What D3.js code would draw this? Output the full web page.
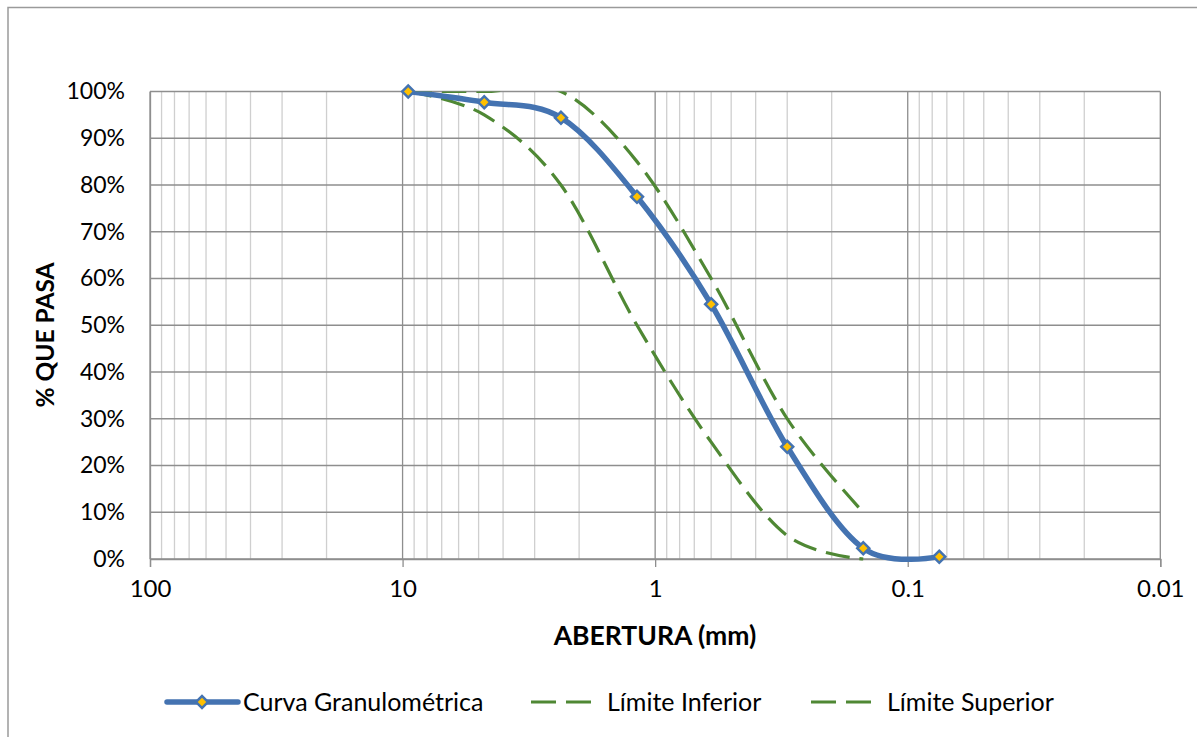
<!DOCTYPE html>
<html>
<head>
<meta charset="utf-8">
<script src="https://cdn.jsdelivr.net/npm/d3@7"></script>
<style>
  html, body { margin: 0; padding: 0; background: #fff; }
  svg { display: block; font-family: Lato, "Open Sans", sans-serif; }
</style>
</head>
<body>
<svg id="chart" width="1197" height="737"></svg>
<script>
// Sieve openings (mm)
const sieves = [9.5, 4.75, 2.36, 1.18, 0.6, 0.3, 0.15, 0.075];
// Percent passing, measured sample
const curvaGranulometrica = [100, 97.7, 94.4, 77.5, 54.5, 24.0, 2.3, 0.5];
// Specification band (fine aggregate)
const limiteSieves = [9.5, 4.75, 2.36, 1.18, 0.6, 0.3, 0.15];
const limiteInferior = [100, 95, 80, 50, 25, 5, 0];
const limiteSuperior = [100, 100, 100, 85, 60, 30, 10];
// Axis ticks
const xTicks = [100, 10, 1, 0.1, 0.01];
const xTickLabels = ["100", "10", "1", "0.1", "0.01"];
const yTicks = [0, 10, 20, 30, 40, 50, 60, 70, 80, 90, 100];
const seriesNames = ["Curva Granulométrica", "Límite Inferior", "Límite Superior"];

const svg = d3.select("#chart");
const plotLeft = 150, plotRight = 1160.3, plotTop = 91.5, plotBottom = 559;

const x = d3.scaleLog().domain([100, 0.01]).range([plotLeft, plotRight]);
const y = d3.scaleLinear().domain([0, 100]).range([plotBottom, plotTop]);

const blue = "#4473b1";
const green = "#4f8834";

// Series lines are clipped at the top of the plot area
svg.append("defs").append("clipPath").attr("id", "plot-clip")
  .append("rect")
  .attr("x", plotLeft - 10).attr("y", plotTop)
  .attr("width", plotRight - plotLeft + 20).attr("height", plotBottom - plotTop + 6);

// Outer frame
svg.append("path")
  .attr("d", "M8,740 L8,7.5 L1200,7.5")
  .attr("fill", "none").attr("stroke", "#9a9a9a").attr("stroke-width", 1.5);

// Minor vertical gridlines
const minor = [];
for (let e = -2; e < 2; e++) {
  for (let m = 2; m <= 9; m++) minor.push(m * Math.pow(10, e));
}
svg.append("g").selectAll("line").data(minor).join("line")
  .attr("x1", d => x(d)).attr("x2", d => x(d))
  .attr("y1", plotTop).attr("y2", plotBottom)
  .attr("stroke", "#cfcfcf").attr("stroke-width", 1.3);

// Major horizontal gridlines
svg.append("g").selectAll("line").data(yTicks).join("line")
  .attr("x1", plotLeft).attr("x2", plotRight)
  .attr("y1", d => y(d)).attr("y2", d => y(d))
  .attr("stroke", "#8e8e8e").attr("stroke-width", 1.3);

// Major vertical gridlines (decades)
svg.append("g").selectAll("line").data(xTicks).join("line")
  .attr("x1", d => x(d)).attr("x2", d => x(d))
  .attr("y1", plotTop).attr("y2", plotBottom)
  .attr("stroke", "#8e8e8e").attr("stroke-width", 1.3);

// X axis with decade ticks
const xAxis = d3.axisBottom(x).tickValues(xTicks)
  .tickFormat((d, i) => xTickLabels[i]).tickSize(8).tickPadding(13);
const gx = svg.append("g").attr("transform", `translate(0,${plotBottom})`).call(xAxis);
gx.select(".domain").attr("stroke", "#8e8e8e").attr("stroke-width", 1.3);
gx.selectAll(".tick line").attr("stroke", "#8e8e8e").attr("stroke-width", 1.3);
gx.selectAll(".tick text").attr("font-size", 24).attr("fill", "#000")
  .attr("font-family", "Lato, sans-serif");

// Y axis labels
const yAxis = d3.axisLeft(y).tickValues(yTicks)
  .tickFormat(d => d + "%").tickSize(0).tickPadding(25);
const gy = svg.append("g").attr("transform", `translate(${plotLeft},0)`).call(yAxis);
gy.select(".domain").attr("stroke", "#8e8e8e").attr("stroke-width", 1.3);
gy.selectAll(".tick text").attr("font-size", 23).attr("fill", "#000")
  .attr("font-family", "Lato, sans-serif");

// Smoothed series lines
const line = (xs) => d3.line()
  .x((d, i) => x(xs[i])).y(d => y(d))
  .curve(d3.curveCatmullRom.alpha(0));

const series = svg.append("g").attr("clip-path", "url(#plot-clip)");

series.append("path").datum(limiteInferior)
  .attr("d", line(limiteSieves))
  .attr("fill", "none").attr("stroke", green).attr("stroke-width", 3.2)
  .attr("stroke-dasharray", "24 10");
series.append("path").datum(limiteSuperior)
  .attr("d", line(limiteSieves))
  .attr("fill", "none").attr("stroke", green).attr("stroke-width", 3.2)
  .attr("stroke-dasharray", "24 10");

series.append("path").datum(curvaGranulometrica)
  .attr("d", line(sieves))
  .attr("fill", "none").attr("stroke", blue).attr("stroke-width", 5.5)
  .attr("stroke-linejoin", "round");

// Diamond markers (square turned 45°)
const diamond = d3.symbol().type(d3.symbolSquare).size(72);
svg.append("g").selectAll("path").data(curvaGranulometrica).join("path")
  .attr("transform", (d, i) => `translate(${x(sieves[i])},${y(d)}) rotate(45)`)
  .attr("d", diamond)
  .attr("fill", "#ffc000").attr("stroke", blue).attr("stroke-width", 2.5);

// Axis titles
svg.append("text")
  .attr("x", 655).attr("y", 645)
  .attr("text-anchor", "middle")
  .attr("font-size", 26.5).attr("font-weight", "bold")
  .text("ABERTURA (mm)");

svg.append("text")
  .attr("transform", "translate(54,335) rotate(-90)")
  .attr("text-anchor", "middle")
  .attr("font-size", 24.5).attr("font-weight", "bold")
  .text("% QUE PASA");

// Legend
const legY = 702;
const leg = svg.append("g");
leg.append("line").attr("x1", 167).attr("x2", 238).attr("y1", legY).attr("y2", legY)
  .attr("stroke", blue).attr("stroke-width", 5.5).attr("stroke-linecap", "round");
leg.append("path").attr("transform", `translate(202,${legY}) rotate(45)`).attr("d", diamond)
  .attr("fill", "#ffc000").attr("stroke", blue).attr("stroke-width", 2.5);
leg.append("text").attr("x", 243).attr("y", legY).attr("dy", "0.35em")
  .attr("font-size", 25).text(seriesNames[0]);

[[531, seriesNames[1]], [811, seriesNames[2]]].forEach(([lx, name]) => {
  leg.append("line").attr("x1", lx).attr("x2", lx + 60).attr("y1", legY).attr("y2", legY)
    .attr("stroke", green).attr("stroke-width", 3.2).attr("stroke-dasharray", "25 10");
  leg.append("text").attr("x", lx + 76).attr("y", legY).attr("dy", "0.35em")
    .attr("font-size", 25).text(name);
});
</script>
</body>
</html>
